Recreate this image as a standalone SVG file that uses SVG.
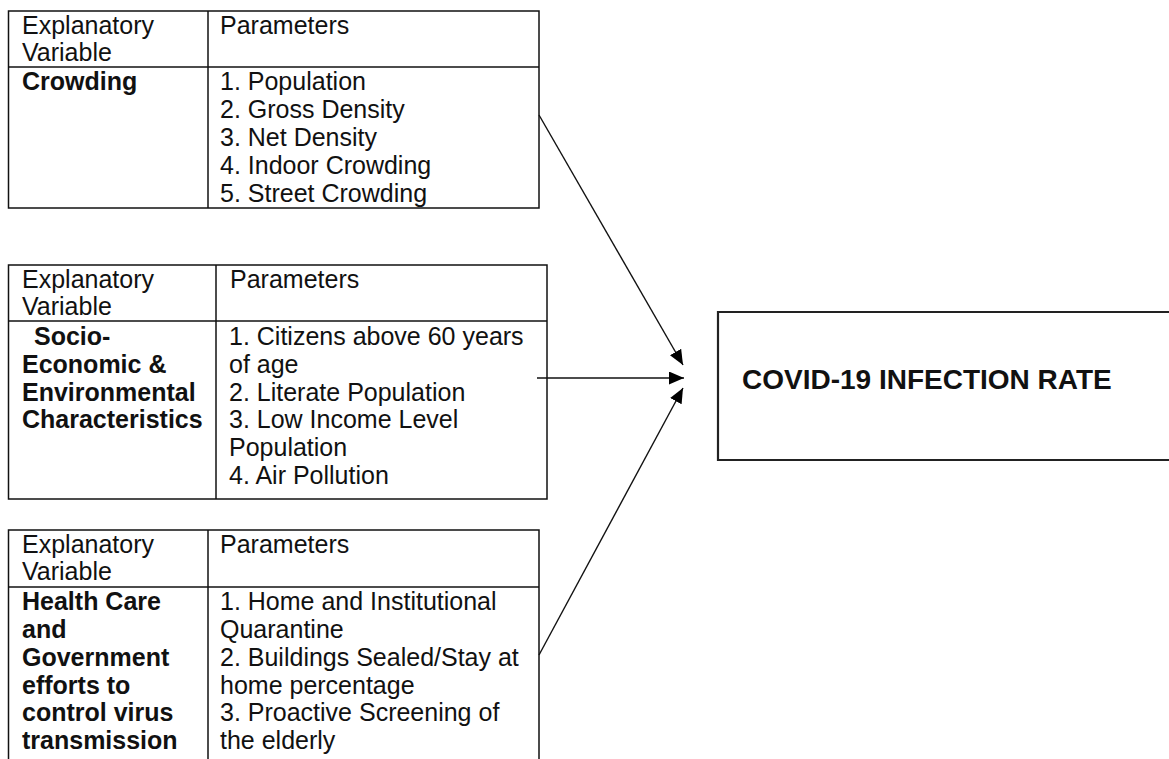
<svg xmlns="http://www.w3.org/2000/svg" width="1169" height="759" viewBox="0 0 1169 759">
<style>
.t{font-family:"Liberation Sans",Arial,sans-serif;font-size:25px;fill:#111}
.b{font-weight:bold}
.cell{fill:none;stroke:#111;stroke-width:1.5}
.conn{stroke:#111;stroke-width:1.4;fill:none}
</style>
<defs>
<marker id="ah" viewBox="0 0 15 13" refX="15" refY="6.5" markerWidth="15" markerHeight="13" markerUnits="userSpaceOnUse" orient="auto">
<path d="M0,0 L15,6.5 L0,13 Z" fill="#000"/>
</marker>
</defs>
<rect width="1169" height="759" fill="#fff"/>

<g id="table-crowding">
<rect class="cell" x="8.5" y="11" width="530.5" height="197"/>
<line class="cell" x1="208" y1="11" x2="208" y2="208"/>
<line class="cell" x1="8.5" y1="67" x2="539" y2="67"/>
<text class="t" x="22" y="34">Explanatory</text>
<text class="t" x="22" y="61">Variable</text>
<text class="t" x="220" y="34">Parameters</text>
<text class="t b" x="22" y="90">Crowding</text>
<text class="t" x="220" y="90">1. Population</text>
<text class="t" x="220" y="118">2. Gross Density</text>
<text class="t" x="220" y="146">3. Net Density</text>
<text class="t" x="220" y="174">4. Indoor Crowding</text>
<text class="t" x="220" y="202">5. Street Crowding</text>
</g>

<g id="table-socio">
<rect class="cell" x="8.5" y="265" width="538.5" height="234"/>
<line class="cell" x1="216" y1="265" x2="216" y2="499"/>
<line class="cell" x1="8.5" y1="321" x2="547" y2="321"/>
<text class="t" x="22" y="288">Explanatory</text>
<text class="t" x="22" y="315">Variable</text>
<text class="t" x="230" y="288">Parameters</text>
<text class="t b" x="34" y="345">Socio-</text>
<text class="t b" x="22" y="373">Economic &amp;</text>
<text class="t b" x="22" y="401">Environmental</text>
<text class="t b" x="22" y="428">Characteristics</text>
<text class="t" x="229" y="345">1. Citizens above 60 years</text>
<text class="t" x="229" y="373">of age</text>
<text class="t" x="229" y="401">2. Literate Population</text>
<text class="t" x="229" y="428">3. Low Income Level</text>
<text class="t" x="229" y="456">Population</text>
<text class="t" x="229" y="484">4. Air Pollution</text>
</g>

<g id="table-health">
<path class="cell" d="M8.5,760 V530 H539 V760"/>
<line class="cell" x1="208" y1="530" x2="208" y2="760"/>
<line class="cell" x1="8.5" y1="587" x2="539" y2="587"/>
<text class="t" x="22" y="553">Explanatory</text>
<text class="t" x="22" y="580">Variable</text>
<text class="t" x="220" y="553">Parameters</text>
<text class="t b" x="22" y="610">Health Care</text>
<text class="t b" x="22" y="638">and</text>
<text class="t b" x="22" y="666">Government</text>
<text class="t b" x="22" y="694">efforts to</text>
<text class="t b" x="22" y="721">control virus</text>
<text class="t b" x="22" y="749">transmission</text>
<text class="t" x="220" y="610">1. Home and Institutional</text>
<text class="t" x="220" y="638">Quarantine</text>
<text class="t" x="220" y="666">2. Buildings Sealed/Stay at</text>
<text class="t" x="220" y="694">home percentage</text>
<text class="t" x="220" y="721">3. Proactive Screening of</text>
<text class="t" x="220" y="749">the elderly</text>
</g>

<g id="covid-box">
<path d="M1170,312 H718 V460 H1170" fill="none" stroke="#222" stroke-width="2.2"/>
<text class="t b" x="742" y="389" style="font-size:28px">COVID-19 INFECTION RATE</text>
</g>

<g id="connectors">
<line class="conn" x1="539" y1="115" x2="683" y2="365" marker-end="url(#ah)"/>
<line class="conn" x1="537" y1="378" x2="684" y2="378" marker-end="url(#ah)"/>
<line class="conn" x1="539" y1="655" x2="683" y2="388" marker-end="url(#ah)"/>
</g>
</svg>
